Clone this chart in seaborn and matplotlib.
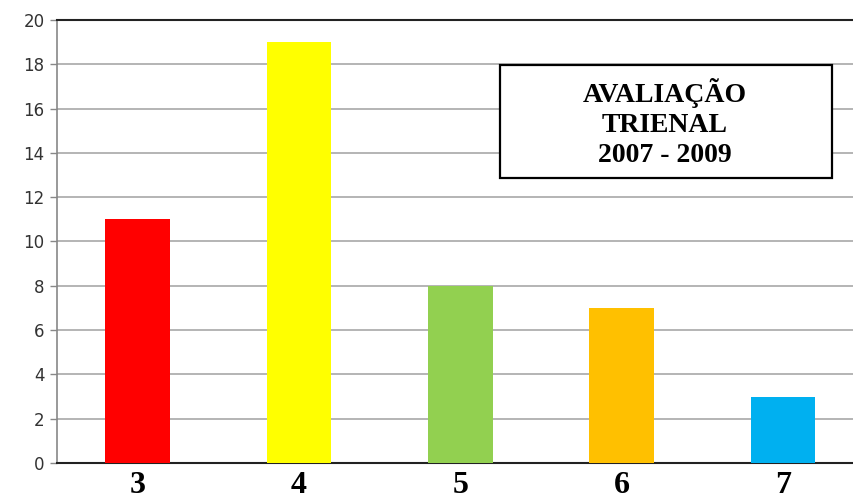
import matplotlib
matplotlib.use("Agg")
import matplotlib.pyplot as plt
from matplotlib.patches import Rectangle
import seaborn as sns
import pandas as pd

categories = ["3", "4", "5", "6", "7"]
values = [11, 19, 8, 7, 3]
colors = ["#FF0000", "#FFFF00", "#92D050", "#FFC000", "#00B0F0"]
yticks = [0, 2, 4, 6, 8, 10, 12, 14, 16, 18, 20]
title_lines = ["AVALIAÇÃO", "TRIENAL", "2007 - 2009"]

sns.set_theme(style="white")
plt.rcParams['font.family'] = ['DejaVu Sans']

df = pd.DataFrame({"cat": categories, "val": values})

fig = plt.figure(figsize=(8.54, 4.99), dpi=100)
ax = fig.add_axes([57/854, 1 - 463/499, 1 - 57/854, (463 - 20)/499])
sns.barplot(data=df, x="cat", y="val", hue="cat", palette=colors, legend=False,
            width=0.40, saturation=1, linewidth=0, ax=ax, zorder=3)

ax.set_xlim(-0.5, 4.44)
ax.set_ylim(0, 20)
ax.set_yticks(yticks)
ax.set_yticklabels([str(t) for t in yticks], fontsize=12, color="#333333")
ax.yaxis.grid(True, color="#a0a0a0", linewidth=1.1, zorder=0)
ax.xaxis.grid(False)
ax.set_xlabel("")
ax.set_ylabel("")
ax.tick_params(axis="y", length=5, width=1, color="#888888", left=True, pad=4)
ax.tick_params(axis="x", length=0, pad=6)
for lbl in ax.get_xticklabels():
    lbl.set_fontfamily("Liberation Serif")
    lbl.set_fontweight("bold")
    lbl.set_fontsize(23)
    lbl.set_color("black")

ax.spines["right"].set_visible(False)
ax.spines["left"].set_color("#888888")
ax.spines["left"].set_linewidth(1.2)
ax.spines["bottom"].set_color("#222222")
ax.spines["bottom"].set_linewidth(1.5)
ax.spines["top"].set_color("#222222")
ax.spines["top"].set_linewidth(1.5)

# title box
fig.patches.append(Rectangle((500/854, 1 - 178/499), 332/854, 113/499,
                             transform=fig.transFigure, facecolor="white",
                             edgecolor="black", linewidth=1.6, zorder=5))
for line, ypx in zip(title_lines, [93, 126, 156]):
    fig.text(665/854, 1 - ypx/499, line, ha="center", va="center",
             fontfamily="Liberation Serif", fontweight="bold", fontsize=20,
             color="black", zorder=6)

fig.savefig("out.png", dpi=100)
